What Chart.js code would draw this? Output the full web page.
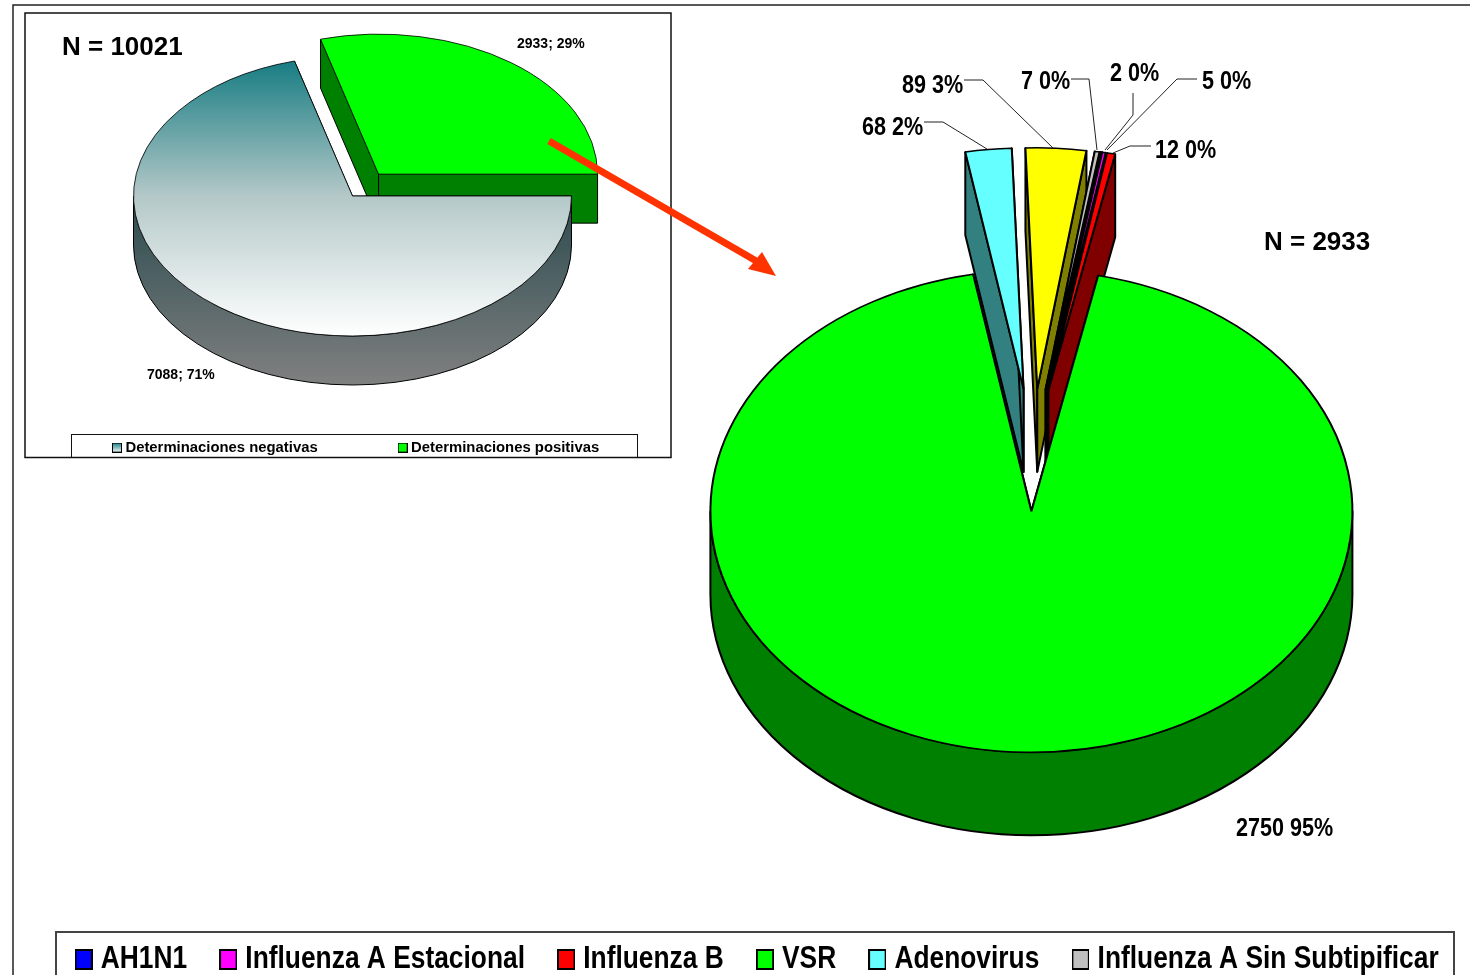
<!DOCTYPE html>
<html>
<head>
<meta charset="utf-8">
<title>Determinaciones</title>
<script src="https://cdn.jsdelivr.net/npm/chart.js@4"></script>
<style>
html, body { margin: 0; height: 100%; overflow: hidden; background: #fff; }
canvas { position: absolute; left: 0; top: 0; }
</style>
</head>
<body>
<canvas id="rightPie" width="1800" height="985"></canvas>
<canvas id="leftPie" width="800" height="465"></canvas>
<script>
// Data
const leftCategories = ['Determinaciones negativas', 'Determinaciones positivas'];
const leftValues = [7088, 2933];
const leftPercents = [71, 29];
const rightCategories = ['AH1N1', 'Influenza A Estacional', 'Influenza B', 'VSR', 'Adenovirus', '', 'Influenza A Sin Subtipificar'];
const rightValues = [2, 5, 12, 2750, 68, 89, 7];
const rightPercents = [0, 0, 0, 95, 2, 3, 0];

// Colours
const rightColors = ['#0000ff', '#ff00ff', '#ff0000', '#00ff00', '#66ffff', '#ffff00', '#c0c0c0'];
const rightSides = ['#000080', '#800080', '#800000', '#008000', '#338080', '#808000', '#606060'];
const FONT = '"Liberation Sans", Arial, sans-serif';

// Legend swatch as a small canvas
function swatch(width, height, lineWidth, paint) {
    const c = document.createElement('canvas');
    c.width = width;
    c.height = height;
    const g = c.getContext('2d');
    g.fillStyle = paint(g);
    g.fillRect(0, 0, width, height);
    g.strokeStyle = '#000';
    g.lineWidth = lineWidth;
    g.strokeRect(lineWidth / 2, lineWidth / 2, width - lineWidth, height - lineWidth);
    return c;
}

// Flattens the pie into an ellipse, pulls the slices apart and draws the side walls
function tiltPlugin(cfg) {
    return {
        id: 'tilt',
        beforeUpdate(chart) {
            // The reference text is squeezed sideways, so the legend is too
            if (!cfg.legendSqueeze || chart.legend.squeezed) return;
            const legend = chart.legend;
            const draw = legend.draw;
            legend.squeezed = true;
            legend.draw = function () {
                chart.ctx.save();
                chart.ctx.scale(cfg.legendSqueeze, 1);
                draw.call(legend);
                chart.ctx.restore();
            };
        },
        beforeDatasetsDraw(chart) {
            const ctx = chart.ctx;
            const arcs = chart.getDatasetMeta(0).data;
            const area = chart.chartArea;
            const baseX = (area.left + area.right) / 2;
            const baseY = (area.top + area.bottom) / 2;
            const mid = a => (a.startAngle + a.endAngle) / 2;

            // The option offset of Chart.js also trims the slice angle, so move the elements
            arcs.forEach((a, i) => {
                a.x = baseX + Math.cos(mid(a)) * cfg.shift[i];
                a.y = baseY + Math.sin(mid(a)) * cfg.shift[i];
            });

            const order = arcs.map((a, i) => i).sort((p, q) => Math.sin(mid(arcs[p])) - Math.sin(mid(arcs[q])));
            ctx.save();
            ctx.lineWidth = cfg.lineWidth;
            ctx.strokeStyle = '#000';
            ctx.lineJoin = 'round';
            order.forEach(i => drawWalls(ctx, arcs[i], cfg, cfg.sideFill(i), cfg.shift[i]));
            ctx.restore();

            ctx.save();
            ctx.translate(cfg.cx, cfg.cy);
            ctx.scale(1, cfg.squash);
            ctx.translate(-baseX, -baseY);
        },
        afterDatasetsDraw(chart) {
            chart.ctx.restore();
        },
        beforeDraw: cfg.beforeDraw,
        afterDraw: cfg.afterDraw
    };
}

function drawWalls(ctx, arc, cfg, fill, shift) {
    const mid = (arc.startAngle + arc.endAngle) / 2;
    const x0 = cfg.cx + Math.cos(mid) * shift;
    const y0 = cfg.cy + Math.sin(mid) * shift * cfg.squash;
    const rx = arc.outerRadius;
    const ry = arc.outerRadius * cfg.squash;
    ctx.fillStyle = fill;

    // Straight walls
    [arc.startAngle, arc.endAngle].forEach(t => {
        const px = x0 + Math.cos(t) * rx;
        const py = y0 + Math.sin(t) * ry;
        ctx.beginPath();
        ctx.moveTo(x0, y0);
        ctx.lineTo(px, py);
        ctx.lineTo(px, py + cfg.depth);
        ctx.lineTo(x0, y0 + cfg.depth);
        ctx.closePath();
        ctx.fill();
        ctx.stroke();
    });

    // Curved wall, only the part that faces the viewer
    for (let n = -1; n <= 1; n++) {
        const lo = Math.max(arc.startAngle, n * Math.PI * 2);
        const hi = Math.min(arc.endAngle, n * Math.PI * 2 + Math.PI);
        if (hi <= lo) continue;
        ctx.beginPath();
        ctx.ellipse(x0, y0, rx, ry, 0, lo, hi);
        ctx.ellipse(x0, y0 + cfg.depth, rx, ry, 0, hi, lo, true);
        ctx.closePath();
        ctx.fill();
        ctx.stroke();
    }
}

function drawText(ctx, text, x, y, font, squeeze) {
    ctx.save();
    ctx.translate(x, y);
    ctx.scale(squeeze || 1, 1);
    ctx.font = font;
    ctx.fillStyle = '#000';
    ctx.textAlign = 'left';
    ctx.textBaseline = 'middle';
    ctx.fillText(text, 0, 2);
    ctx.restore();
}

function polyline(ctx, points) {
    ctx.beginPath();
    points.forEach((p, i) => i ? ctx.lineTo(p[0], p[1]) : ctx.moveTo(p[0], p[1]));
    ctx.stroke();
}

// Gradients of the grey slice. The top face is filled inside the flattened
// space, so its stops are given in that space
const LEFT_CX = 352.5, LEFT_CY = 196, LEFT_RADIUS = 219, LEFT_SQUASH = 140 / 219, LEFT_DEPTH = 49;
const helperCtx = document.createElement('canvas').getContext('2d');

function leftChart() {
    const canvas = document.getElementById('leftPie');
    const ctx = canvas.getContext('2d');

    const chart = new Chart(ctx, {
        type: 'pie',
        data: {
            labels: leftCategories,
            datasets: [{
                data: leftValues,
                backgroundColor: ['#ffffff', '#00ff00'],
                borderColor: '#000',
                borderWidth: 1,
                clip: false
            }]
        },
        options: {
            responsive: false,
            animation: false,
            events: [],
            rotation: 90,
            radius: LEFT_RADIUS,
            layout: { padding: { left: 32 } },
            plugins: {
                tooltip: { enabled: false },
                legend: {
                    position: 'bottom',
                    align: 'start',
                    labels: {
                        usePointStyle: true,
                        pointStyleWidth: 2,
                        padding: 84,
                        color: '#000',
                        font: { family: FONT, size: 14.85, weight: 'bold' },
                        generateLabels: () => leftCategories.map((text, i) => ({
                            text,
                            index: i,
                            hidden: false,
                            fontColor: '#000',
                            lineWidth: 0,
                            pointStyle: swatch(10, 10, 1, g => {
                                if (i === 1) return '#00ff00';
                                const grad = g.createLinearGradient(0, 0, 0, 10);
                                grad.addColorStop(0, '#117a80');
                                grad.addColorStop(1, '#ffffff');
                                return grad;
                            })
                        }))
                    }
                }
            }
        },
        plugins: [tiltPlugin({
            cx: LEFT_CX,
            cy: LEFT_CY,
            squash: LEFT_SQUASH,
            depth: LEFT_DEPTH,
            lineWidth: 1,
            shift: [0, 43],
            sideFill(i) {
                if (i === 1) return '#008000';
                const grad = helperCtx.createLinearGradient(0, LEFT_CY, 0, LEFT_CY + 140 + LEFT_DEPTH);
                grad.addColorStop(0, '#2a4a4e');
                grad.addColorStop(1, '#808080');
                return grad;
            },
            beforeDraw(c) {
                const g = c.ctx;
                g.save();
                g.strokeStyle = '#111';
                g.lineWidth = 1.5;
                g.strokeRect(25, 13, 646, 444.5);
                g.lineWidth = 1;
                g.strokeRect(71.5, 434.5, 566, 23);
                g.restore();
            },
            afterDraw(c) {
                const g = c.ctx;
                g.save();
                drawText(g, 'N = 10021', 62, 46, 'bold 26px ' + FONT);
                const font = 'bold 14px ' + FONT;
                drawText(g, `${leftValues[1]}; ${leftPercents[1]}%`, 517, 42, font);
                drawText(g, `${leftValues[0]}; ${leftPercents[0]}%`, 147, 373, font);
                // Arrow towards the detail pie
                g.strokeStyle = '#ff3300';
                g.lineWidth = 7;
                polyline(g, [[549, 141], [758, 262]]);
                g.fillStyle = '#ff3300';
                g.beginPath();
                g.moveTo(776, 276);
                g.lineTo(748, 269);
                g.lineTo(762, 252);
                g.closePath();
                g.fill();
                g.restore();
            }
        })]
    });

    // Top face gradient, stops in the flattened space of the arc
    const area = chart.chartArea;
    const midY = (area.top + area.bottom) / 2;
    const grad = helperCtx.createLinearGradient(0, midY - LEFT_RADIUS, 0, midY + LEFT_RADIUS);
    grad.addColorStop(0, '#117a80');
    grad.addColorStop(0.5, '#b4c8c8');
    grad.addColorStop(1, '#ffffff');
    chart.data.datasets[0].backgroundColor = [grad, '#00ff00'];
    chart.update();
}

// Positions of the value labels and their leader lines
const rightLabelPos = [[1110, 72], [1202, 80], [1155, 149], [1236, 827], [862, 126], [902, 84], [1021, 80]];
const rightLeaders = [
    [[1133, 93], [1133, 115], [1105, 150]],
    [[1197, 79], [1177, 79], [1107, 150]],
    [[1151, 146], [1130, 146], [1113, 153]],
    null,
    [[924, 122], [943, 122], [987, 149]],
    [[964, 80], [983, 80], [1053, 148]],
    [[1071, 79], [1089, 79], [1097, 150]]
];

function rightChart() {
    const ctx = document.getElementById('rightPie').getContext('2d');

    new Chart(ctx, {
        type: 'pie',
        data: {
            labels: rightCategories,
            datasets: [{
                data: rightValues,
                backgroundColor: rightColors,
                borderColor: '#000',
                borderWidth: 2,
                clip: false
            }]
        },
        options: {
            responsive: false,
            animation: false,
            events: [],
            rotation: 9.67,
            radius: 321,
            layout: { padding: { left: 50 } },
            plugins: {
                tooltip: { enabled: false },
                legend: {
                    position: 'bottom',
                    align: 'start',
                    labels: {
                        usePointStyle: true,
                        pointStyleWidth: 9,
                        padding: 44,
                        color: '#000',
                        font: { family: FONT, size: 31, weight: 'bold' },
                        filter: item => item.text,
                        generateLabels: () => rightCategories.map((text, i) => ({
                            text,
                            index: i,
                            hidden: false,
                            fontColor: '#000',
                            lineWidth: 0,
                            pointStyle: swatch(21, 21, 2, () => rightColors[i])
                        }))
                    }
                }
            }
        },
        plugins: [tiltPlugin({
            cx: 1032.5,
            cy: 450,
            squash: 241 / 321,
            depth: 83,
            lineWidth: 2,
            shift: rightValues.map(() => 81.6),
            legendSqueeze: 0.85,
            sideFill: i => rightSides[i],
            beforeDraw(c) {
                const g = c.ctx;
                g.save();
                g.strokeStyle = '#222';
                g.lineWidth = 1.5;
                polyline(g, [[13, 975], [13, 5], [1470, 5]]);
                g.strokeStyle = '#444';
                g.lineWidth = 2;
                g.strokeRect(56, 932, 1398, 60);
                g.restore();
            },
            afterDraw(c) {
                const g = c.ctx;
                g.save();
                g.strokeStyle = '#222';
                g.lineWidth = 1;
                const font = 'bold 26px ' + FONT;
                rightValues.forEach((v, i) => {
                    drawText(g, `${v} ${rightPercents[i]}%`, rightLabelPos[i][0], rightLabelPos[i][1], font, 0.83);
                    if (rightLeaders[i]) polyline(g, rightLeaders[i]);
                });
                drawText(g, 'N = 2933', 1264, 241, 'bold 26px ' + FONT);
                g.restore();
            }
        })]
    });
}

rightChart();
leftChart();
</script>
</body>
</html>
